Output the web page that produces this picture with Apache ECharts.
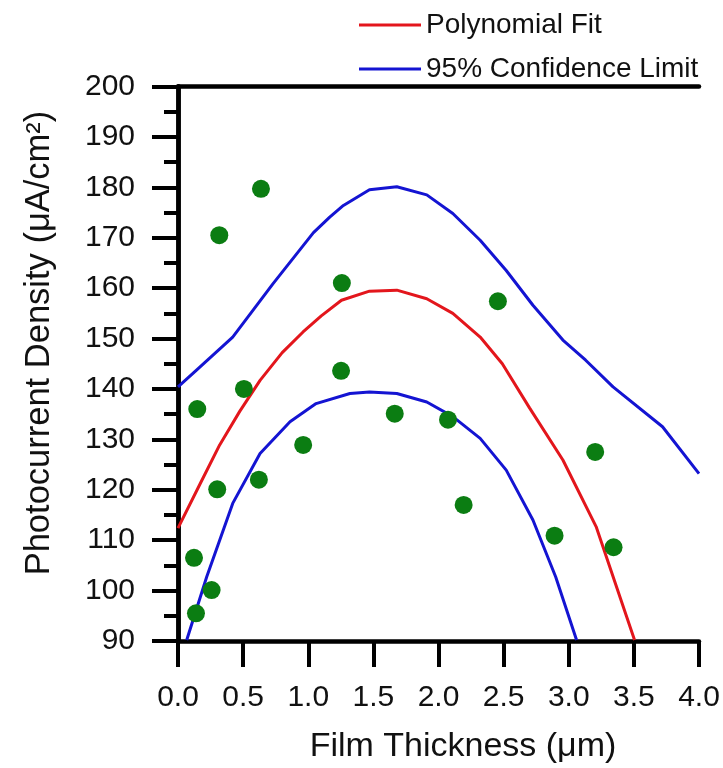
<!DOCTYPE html>
<html>
<head>
<meta charset="utf-8">
<script src="https://cdn.jsdelivr.net/npm/echarts@6/dist/echarts.min.js"></script>
<style>
html,body{margin:0;padding:0;background:#fff;}
#chart{width:723px;height:768px;}
</style>
</head>
<body>
<div id="chart"></div>
<script>
// Measured data points
const pointX = [0.123, 0.138, 0.148, 0.258, 0.301, 0.317, 0.506, 0.621, 0.637, 0.961, 1.258, 1.252, 1.664, 2.073, 2.193, 2.456, 2.891, 3.203, 3.344];
const pointY = [106.5, 95.5, 136.0, 100.1, 120.1, 170.5, 140.0, 122.0, 179.7, 128.9, 161.0, 143.6, 135.1, 133.9, 117.0, 157.4, 110.9, 127.5, 108.6];

// Polynomial fit curve
const fitX = [0, 0.17, 0.32, 0.475, 0.63, 0.8, 0.96, 1.1, 1.255, 1.47, 1.68, 1.91, 2.11, 2.32, 2.49, 2.70, 2.955, 3.21, 3.505];
const fitY = [112.4, 121.2, 128.9, 135.6, 141.7, 147.2, 151.3, 154.5, 157.6, 159.4, 159.6, 157.9, 155, 150.3, 145, 136.2, 125.9, 112.7, 90.2];

// Upper 95% confidence limit
const upperX = [0, 0.14, 0.42, 0.73, 1.04, 1.165, 1.27, 1.47, 1.68, 1.91, 2.11, 2.32, 2.52, 2.725, 2.955, 3.13, 3.34, 3.72, 4.0];
const upperY = [140.4, 143.7, 150.3, 160.9, 171.0, 174.1, 176.4, 179.5, 180.1, 178.5, 174.8, 169.5, 163.5, 156.6, 149.7, 145.7, 140.4, 132.5, 123.2];

// Lower 95% confidence limit
const lowerX = [0.067, 0.22, 0.42, 0.63, 0.86, 1.06, 1.32, 1.47, 1.68, 1.91, 2.11, 2.32, 2.52, 2.725, 2.90, 3.06];
const lowerY = [90.2, 102.7, 117.3, 127.2, 133.5, 137.1, 139.1, 139.4, 139.1, 137.4, 134.5, 130.2, 123.9, 114.0, 102.7, 90.2];

const xTitle = 'Film Thickness (μm)';
const yTitle = 'Photocurrent Density (μA/cm²)';
const legendNames = ['Polynomial Fit', '95% Confidence Limit'];

const zip = (a, b) => a.map((v, i) => [v, b[i]]);
const FONT = '"Liberation Sans", Arial, sans-serif';
const RED = '#e3161c';
const BLUE = '#1414d2';
const GREEN = '#0b7d12';
const AX = 4.5;

const chart = echarts.init(document.getElementById('chart'));
chart.setOption({
  animation: false,
  backgroundColor: '#fff',
  grid: {left: 178, right: 24, top: 86.5, bottom: 127, containLabel: false},
  legend: {
    orient: 'vertical', left: 354, top: 6, itemWidth: 62, itemHeight: 3, itemGap: 16,
    data: [{name: legendNames[0], icon: 'rect'}, {name: legendNames[1], icon: 'rect'}],
    textStyle: {fontSize: 28, color: '#111', fontFamily: FONT}
  },
  xAxis: [{
    type: 'value', min: 0, max: 4, interval: 0.5,
    axisLine: {show: true, onZero: false, lineStyle: {color: '#000', width: AX}},
    axisTick: {show: true, inside: false, length: 26, lineStyle: {color: '#000', width: 4}},
    axisLabel: {fontSize: 30, color: '#111', fontFamily: FONT, margin: 42, formatter: v => v.toFixed(1)},
    splitLine: {show: false}
  }, {
    type: 'value', position: 'top', min: 0, max: 4,
    axisLine: {show: true, lineStyle: {color: '#000', width: AX}},
    axisTick: {show: false}, axisLabel: {show: false}, splitLine: {show: false}
  }],
  yAxis: [{
    type: 'value', min: 90, max: 200, interval: 10,
    axisLine: {show: true, onZero: false, lineStyle: {color: '#000', width: AX}},
    axisTick: {show: true, inside: false, length: 26, lineStyle: {color: '#000', width: 4}},
    minorTick: {show: true, splitNumber: 2, length: 14, lineStyle: {color: '#000', width: 4}},
    axisLabel: {fontSize: 30, color: '#111', fontFamily: FONT, margin: 43},
    splitLine: {show: false}
  }, {
    type: 'value', position: 'right', min: 90, max: 200,
    axisLine: {show: true, lineStyle: {color: '#000', width: AX}},
    axisTick: {show: false}, axisLabel: {show: false}, splitLine: {show: false}
  }],
  graphic: [
    {type: 'text', x: 463, y: 747, style: {text: xTitle, fontSize: 34, fill: '#111', fontFamily: FONT, align: 'center', verticalAlign: 'middle'}},
    {type: 'text', x: 39, y: 343, rotation: Math.PI / 2, style: {text: yTitle, fontSize: 34.5, fill: '#111', fontFamily: FONT, align: 'center', verticalAlign: 'middle'}}
  ],
  series: [
    {name: legendNames[0], type: 'line', data: zip(fitX, fitY), symbol: 'none', smooth: false,
     itemStyle: {color: RED}, lineStyle: {color: RED, width: 3}, clip: true, z: 3},
    {name: legendNames[1], type: 'line', data: zip(upperX, upperY), symbol: 'none', smooth: false,
     itemStyle: {color: BLUE}, lineStyle: {color: BLUE, width: 3}, clip: true, z: 3},
    {name: legendNames[1], type: 'line', data: zip(lowerX, lowerY), symbol: 'none', smooth: false,
     itemStyle: {color: BLUE}, lineStyle: {color: BLUE, width: 3}, clip: true, z: 3},
    {name: 'Data', type: 'scatter', data: zip(pointX, pointY), symbol: 'circle', symbolSize: 18,
     itemStyle: {color: GREEN, opacity: 1}, z: 4}
  ]
});
</script>
</body>
</html>
